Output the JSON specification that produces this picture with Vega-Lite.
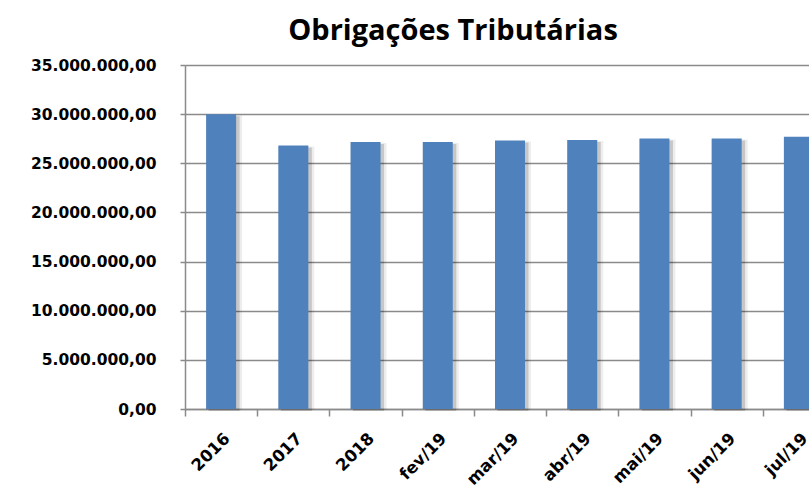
{
  "$schema": "https://vega.github.io/schema/vega-lite/v6.json",
  "usermeta": {"embedOptions": {"actions": false}},
  "width": 624,
  "height": 344,
  "autosize": "none",
  "padding": {"left": 185, "top": 65, "right": 0, "bottom": 82},
  "background": "white",
  "title": {
    "text": "Obrigações Tributárias",
    "font": "Open Sans",
    "fontSize": 29,
    "fontWeight": "bold",
    "color": "#000000",
    "anchor": "middle",
    "dx": -44,
    "offset": -11,
    "baseline": "alphabetic"
  },
  "config": {
    "locale": {"number": {"decimal": ",", "thousands": ".", "grouping": [3], "currency": ["R$", ""]}},
    "view": {"stroke": null},
    "axis": {
      "labelFont": "DejaVu Sans",
      "labelFontWeight": "bold",
      "labelColor": "#000000",
      "domainColor": "#8a8a8a",
      "domainWidth": 1.5,
      "tickColor": "#8a8a8a",
      "tickWidth": 1.5,
      "gridColor": "#8a8a8a",
      "gridWidth": 1.5
    }
  },
  "data": {
    "values": [
      {"periodo": "2016", "valor": 30000000},
      {"periodo": "2017", "valor": 26820000},
      {"periodo": "2018", "valor": 27170000},
      {"periodo": "fev/19", "valor": 27170000},
      {"periodo": "mar/19", "valor": 27330000},
      {"periodo": "abr/19", "valor": 27370000},
      {"periodo": "mai/19", "valor": 27530000},
      {"periodo": "jun/19", "valor": 27530000},
      {"periodo": "jul/19", "valor": 27710000}
    ]
  },
  "encoding": {
    "x": {
      "field": "periodo",
      "type": "nominal",
      "sort": null,
      "scale": {"range": [0, 650], "paddingInner": 0, "paddingOuter": 0},
      "axis": {
        "title": null,
        "labelAngle": -45,
        "labelFontSize": 16.5,
        "labelPadding": 14,
        "tickSize": 7,
        "tickBand": "extent",
        "grid": false
      }
    },
    "y": {
      "field": "valor",
      "type": "quantitative",
      "scale": {"domain": [0, 35000000], "nice": false},
      "axis": {
        "title": null,
        "format": ",.2f",
        "values": [0, 5000000, 10000000, 15000000, 20000000, 25000000, 30000000, 35000000],
        "labelFontSize": 15.5,
        "labelPadding": 24,
        "tickSize": 5,
        "grid": true
      }
    }
  },
  "layer": [
    {"mark": {"type": "bar", "size": 36, "color": "#000000", "opacity": 0.07, "xOffset": 3, "yOffset": 1}},
    {"mark": {"type": "bar", "size": 31, "color": "#000000", "opacity": 0.16, "xOffset": 3, "yOffset": 2}},
    {"mark": {"type": "bar", "size": 30, "color": "#4F81BD"}}
  ]
}
